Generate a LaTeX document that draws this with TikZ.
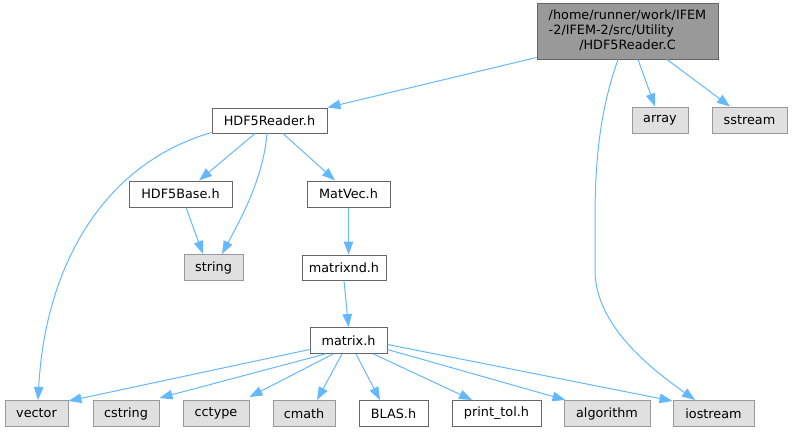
\documentclass[tikz,border=0pt]{standalone}
\usepackage{fontspec}
\setmainfont{DejaVu Sans}
\usetikzlibrary{arrows.meta,calc}
\definecolor{edgeblue}{HTML}{63B8FF}
\definecolor{sysfill}{HTML}{E0E0E0}
\definecolor{sysborder}{HTML}{999999}
\definecolor{hdrborder}{HTML}{666666}
\definecolor{topfill}{HTML}{999999}
\tikzset{
  box/.style={draw, line width=1pt, inner sep=0pt, minimum height=26pt, font=\fontsize{12.8}{15}\selectfont, anchor=center},
  hdr/.style={box, draw=hdrborder, fill=white},
  sys/.style={box, draw=sysborder, fill=sysfill},
  topbox/.style={box, draw=hdrborder, fill=topfill},
  dep/.style={draw=edgeblue, line width=1pt, -{Triangle[length=13pt,width=9.5pt,fill=edgeblue]}},
}
\begin{document}
\begin{tikzpicture}[x=1pt,y=-1pt]
\useasboundingbox (0,0) rectangle (793,432);
% nodes
\node[topbox, minimum width=181pt, minimum height=56pt] (top) at (627.5,31)
  {\begin{tabular}{@{}l@{}}/home/runner/work/IFEM\\-2/IFEM-2/src/Utility\\\multicolumn{1}{@{}c@{}}{/HDF5Reader.C}\end{tabular}};
\node[hdr, minimum width=115pt, minimum height=25pt] (hr) at (269.5,120.5) {HDF5Reader.h};
\node[sys, minimum width=56pt] (array) at (660,120) {array};
\node[sys, minimum width=75pt] (sstream) at (749.5,120) {sstream};
\node[hdr, minimum width=103pt] (base) at (180.5,194) {HDF5Base.h};
\node[hdr, minimum width=83pt] (matvec) at (348.5,194) {MatVec.h};
\node[sys, minimum width=59pt] (string) at (213.5,267.5) {string};
\node[hdr, minimum width=84pt, minimum height=25pt] (matrixnd) at (344,267.5) {matrixnd.h};
\node[hdr, minimum width=77pt] (matrix) at (348.5,340.5) {matrix.h};
\node[sys, minimum width=63pt] (vector) at (36.5,413.5) {vector};
\node[sys, minimum width=66pt] (cstring) at (126,413.5) {cstring};
\node[sys, minimum width=66pt] (cctype) at (216,413.5) {cctype};
\node[sys, minimum width=62pt] (cmath) at (304,413.5) {cmath};
\node[hdr, minimum width=69pt] (blas) at (393.5,413.5) {BLAS.h};
\node[hdr, minimum width=89pt] (printtol) at (496.5,413.5) {print\_tol.h};
\node[sys, minimum width=86pt] (algorithm) at (607,413.5) {algorithm};
\node[sys, minimum width=81pt] (iostream) at (713.5,413.5) {iostream};
% edges from top
\draw[dep] ($(top.south west)+(0,-2)$) -- ($(hr.north east)+(0,0)$);
\draw[dep] ($(top.south)+(10.5,0)$) -- ($(array.north)+(-5,0)$);
\draw[dep] ($(top.south)+(39.5,0)$) -- ($(sstream.north)+(-19.5,0)$);
\draw[dep] ($(top.south)+(-9.5,0)$) .. controls (600,110) and (595,160) .. (595,220)
  -- (595,270) .. controls (595,325) and (650,368) .. ($(iostream.north)+(-18.5,0)$);
% edges from HDF5Reader.h
\draw[dep] ($(hr.south west)+(0,-1)$) .. controls (100,165) and (45,270) .. ($(vector.north)+(1.5,0)$);
\draw[dep] ($(hr.south)+(-14.5,0)$) -- ($(base.north)+(18.5,0)$);
\draw[dep] ($(hr.south)+(-2.5,0)$) .. controls (263,180) and (240,220) .. ($(string.north)+(8.5,0)$);
\draw[dep] ($(hr.south)+(13.5,0)$) -- ($(matvec.north)+(-13.5,0)$);
\draw[dep] ($(base.south)+(5.5,0)$) -- ($(string.north)+(-10.5,0)$);
\draw[dep] (matvec.south) -- ($(matrixnd.north)+(4.5,0)$);
\draw[dep] (matrixnd.south) -- (matrix.north);
% edges from matrix.h
\draw[dep] ($(matrix.west)+(0,9)$) -- ($(vector.north east)+(0,1)$);
\draw[dep] ($(matrix.south)+(-23.5,0)$) -- ($(cstring.north east)+(0,-2)$);
\draw[dep] ($(matrix.south)+(-15.5,0)$) -- ($(cctype.north east)+(0,-3)$);
\draw[dep] ($(matrix.south)+(-6.5,0)$) -- ($(cmath.north)+(13,0)$);
\draw[dep] ($(matrix.south)+(7.5,0)$) -- ($(blas.north)+(-13.5,0)$);
\draw[dep] ($(matrix.south east)+(-14,0)$) -- ($(printtol.north)+(-24.5,0)$);
\draw[dep] ($(matrix.east)+(0,9)$) -- ($(algorithm.north west)+(2,0)$);
\draw[dep] ($(matrix.east)+(0,4)$) -- ($(iostream.north west)+(0,1)$);
\end{tikzpicture}
\end{document}
